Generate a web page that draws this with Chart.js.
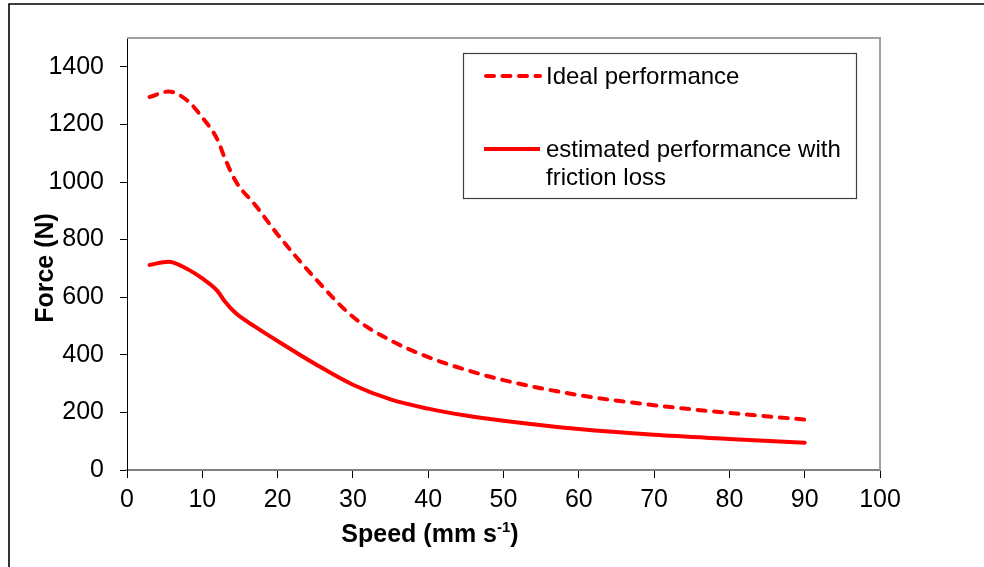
<!DOCTYPE html>
<html>
<head>
<meta charset="utf-8">
<script src="https://cdn.jsdelivr.net/npm/chart.js@4/dist/chart.umd.min.js"></script>
<style>
  html, body { margin: 0; padding: 0; background: #fff; }
  #wrap { width: 984px; height: 567px; position: relative; }
</style>
</head>
<body>
<div id="wrap"><canvas id="chart" width="984" height="567"></canvas></div>
<script>
// Speed (mm/s) at which force was evaluated
const speed = [3, 5.5, 8, 10, 12, 13, 14.5, 17, 20, 25, 30, 35, 40, 45, 50, 60, 70, 80, 90];
// Ideal force output (N)
const idealForce = [1295, 1314, 1283, 1224, 1148, 1082, 1000, 921, 818, 665, 532, 450, 392, 348, 312, 260, 225, 198, 175];
// Estimated force output including friction loss (N)
const frictionForce = [712, 723, 698, 665, 622, 585, 543, 498, 448, 368, 296, 245, 213, 189, 171, 142, 122, 108, 95];

const seriesNames = ['Ideal performance', 'estimated performance with friction loss'];
const legendLines = [['Ideal performance'], ['estimated performance with', 'friction loss']];
const xTitle = 'Speed (mm s';
const xTitleSup = '-1';
const yTitle = 'Force (N)';

const RED = '#ff0000';
const FONT = '"Liberation Sans", Arial, sans-serif';
const DASH = [8, 8.5];

function toPoints(xs, ys) { return xs.map((x, i) => ({ x: x, y: ys[i] })); }

// Outer frame, plot frame, axis titles and boxed legend
const decorations = {
  id: 'decorations',
  beforeDraw(chart) {
    const ctx = chart.ctx;
    ctx.save();
    ctx.fillStyle = '#fff';
    ctx.fillRect(0, 0, chart.width, chart.height);
    ctx.strokeStyle = '#000';
    ctx.lineWidth = 1.6;
    ctx.beginPath();
    ctx.moveTo(9, chart.height + 2);
    ctx.lineTo(9, 4);
    ctx.lineTo(chart.width + 2, 4);
    ctx.stroke();
    ctx.restore();
  },
  beforeDatasetsDraw(chart) {
    const ctx = chart.ctx;
    const a = chart.chartArea;
    ctx.save();
    ctx.strokeStyle = '#a0a0a0';
    ctx.lineWidth = 2;
    ctx.beginPath();
    ctx.moveTo(a.left, a.top);
    ctx.lineTo(a.right, a.top);
    ctx.lineTo(a.right, a.bottom);
    ctx.stroke();
    ctx.restore();
  },
  afterDraw(chart) {
    const ctx = chart.ctx;
    ctx.save();
    ctx.fillStyle = '#000';

    // y axis title
    ctx.font = 'bold 25px ' + FONT;
    ctx.textAlign = 'center';
    ctx.textBaseline = 'middle';
    ctx.translate(46, 268);
    ctx.rotate(-Math.PI / 2);
    ctx.fillText(yTitle, 0, 0);
    ctx.setTransform(1, 0, 0, 1, 0, 0);

    // x axis title with superscript
    ctx.textAlign = 'left';
    ctx.textBaseline = 'alphabetic';
    const mainFont = 'bold 25px ' + FONT;
    const supFont = 'bold 15px ' + FONT;
    ctx.font = mainFont;
    const w1 = ctx.measureText(xTitle).width;
    const w3 = ctx.measureText(')').width;
    ctx.font = supFont;
    const w2 = ctx.measureText(xTitleSup).width;
    const total = w1 + w2 + w3;
    const x0 = 430 - total / 2;
    const base = 542;
    ctx.font = mainFont;
    ctx.fillText(xTitle, x0, base);
    ctx.font = supFont;
    ctx.fillText(xTitleSup, x0 + w1, base - 10);
    ctx.font = mainFont;
    ctx.fillText(')', x0 + w1 + w2, base);

    // legend box
    ctx.strokeStyle = '#404040';
    ctx.lineWidth = 1.2;
    ctx.strokeRect(463.5, 53.5, 393, 145);

    const rows = [
      { y: 77, dash: DASH, lines: legendLines[0] },
      { y: 150, dash: [], lines: legendLines[1] }
    ];
    rows.forEach(r => {
      ctx.strokeStyle = RED;
      ctx.lineWidth = 4;
      ctx.lineCap = r.dash.length ? 'round' : 'butt';
      ctx.setLineDash(r.dash);
      ctx.beginPath();
      ctx.moveTo(r.dash.length ? 486 : 484, r.y - 1);
      ctx.lineTo(540, r.y - 1);
      ctx.stroke();
      ctx.setLineDash([]);
      ctx.font = '24px ' + FONT;
      ctx.fillStyle = '#000';
      ctx.textBaseline = 'middle';
      r.lines.forEach((t, i) => ctx.fillText(t, 546, r.y + i * 28));
    });
    ctx.restore();
  }
};

new Chart(document.getElementById('chart'), {
  type: 'line',
  data: {
    datasets: [
      {
        label: seriesNames[0],
        data: toPoints(speed, idealForce),
        borderColor: RED,
        borderWidth: 4,
        borderDash: DASH,
        borderCapStyle: 'round',
        cubicInterpolationMode: 'monotone',
        pointRadius: 0,
        fill: false
      },
      {
        label: seriesNames[1],
        data: toPoints(speed, frictionForce),
        borderColor: RED,
        borderWidth: 4,
        borderCapStyle: 'round',
        cubicInterpolationMode: 'monotone',
        pointRadius: 0,
        fill: false
      }
    ]
  },
  options: {
    responsive: false,
    animation: false,
    events: [],
    layout: { padding: { left: 0, top: 38, right: 104, bottom: 0 } },
    plugins: {
      legend: { display: false },
      tooltip: { enabled: false }
    },
    scales: {
      x: {
        type: 'linear',
        min: 0,
        max: 100,
        ticks: {
          stepSize: 10,
          color: '#000',
          padding: 7,
          maxRotation: 0,
          font: { family: FONT, size: 25 },
          callback: v => String(v)
        },
        grid: { drawOnChartArea: false, tickLength: 8, color: '#000', lineWidth: 1 },
        border: { color: '#808080', width: 2 },
        afterFit(scale) { scale.height = 97; }
      },
      y: {
        type: 'linear',
        min: 0,
        max: 1500,
        ticks: {
          stepSize: 200,
          includeBounds: false,
          color: '#000',
          padding: 16,
          font: { family: FONT, size: 25 },
          callback: v => String(v)
        },
        grid: { drawOnChartArea: false, tickLength: 7, color: '#000', lineWidth: 1 },
        border: { color: '#000', width: 1 },
        afterFit(scale) { scale.width = 127; }
      }
    }
  },
  plugins: [decorations]
});
</script>
</body>
</html>
